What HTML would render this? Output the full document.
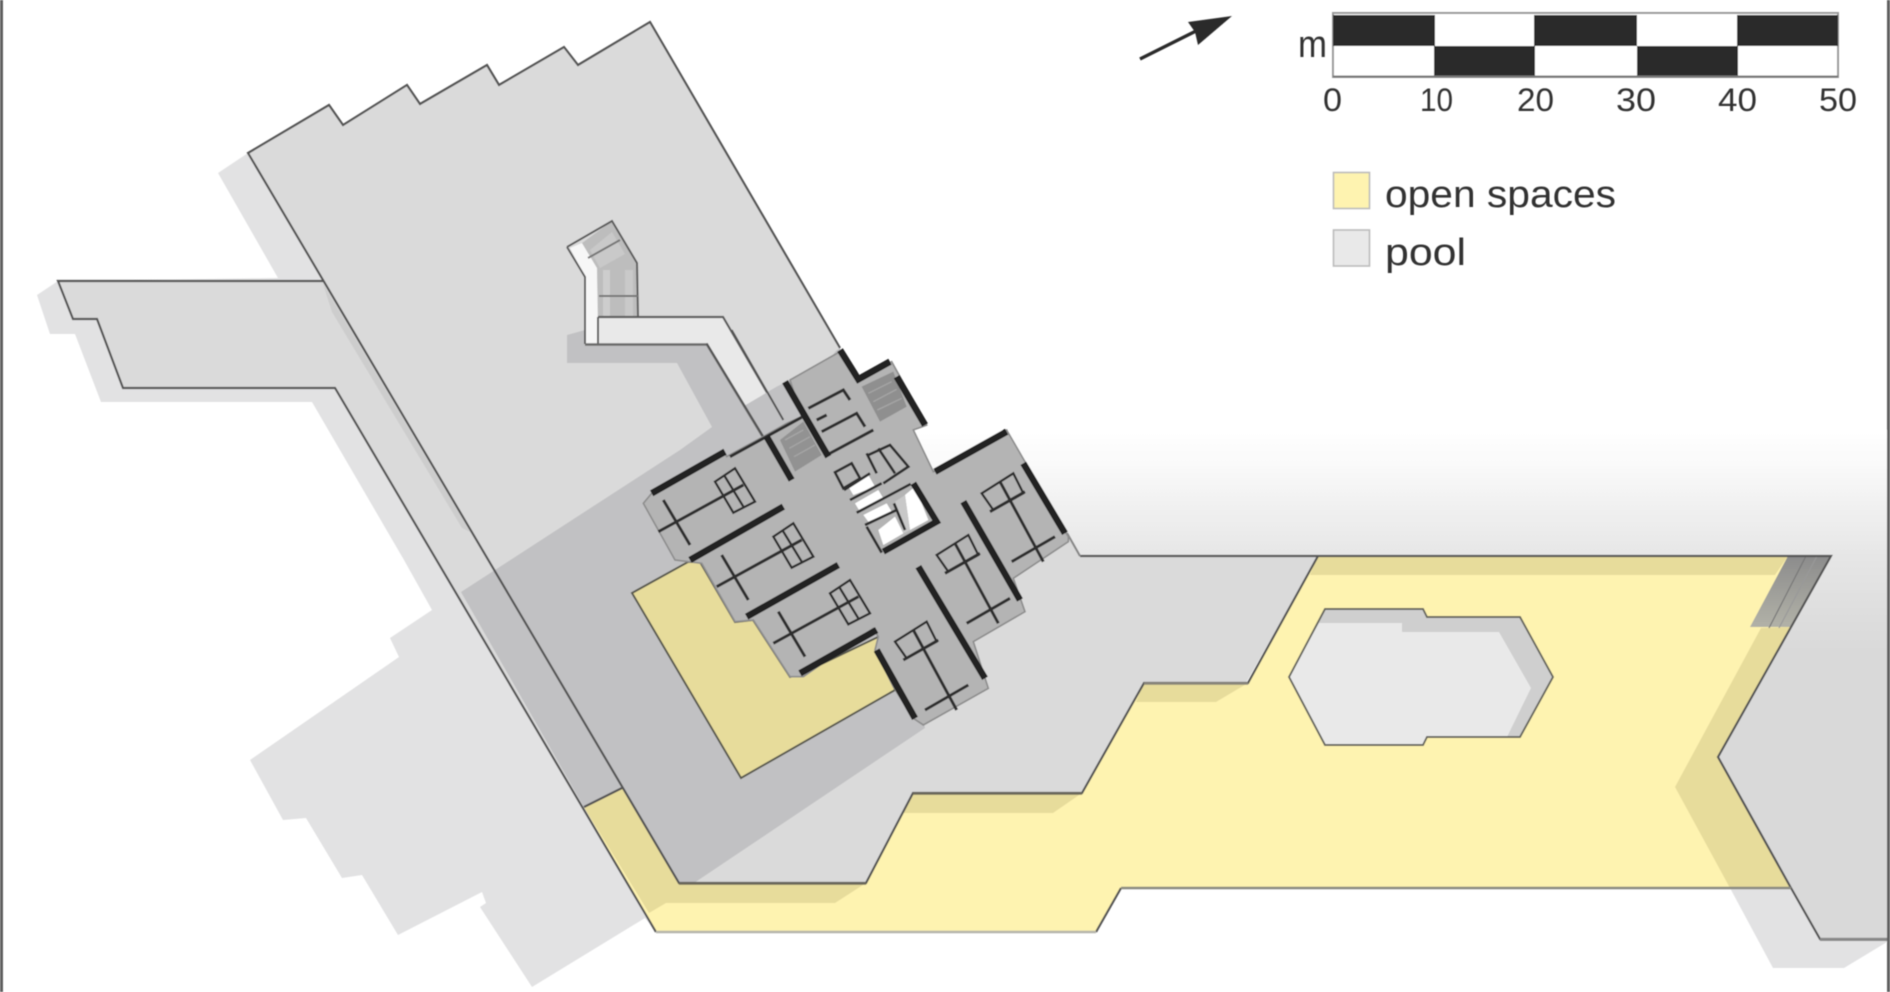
<!DOCTYPE html>
<html>
<head>
<meta charset="utf-8">
<style>
html,body{margin:0;padding:0;background:#fff;width:1890px;height:992px;overflow:hidden}
svg{display:block}
text{font-family:"Liberation Sans",sans-serif;fill:#333}
</style>
</head>
<body>
<svg width="1890" height="992" viewBox="0 0 1890 992" xmlns="http://www.w3.org/2000/svg">
<defs>
<linearGradient id="g" gradientUnits="userSpaceOnUse" x1="0" y1="430" x2="0" y2="650">
<stop offset="0" stop-color="#ffffff"/>
<stop offset="0.15" stop-color="#fafafa"/>
<stop offset="0.57" stop-color="#e6e6e6"/>
<stop offset="1" stop-color="#d9d9d9"/>
</linearGradient>
<linearGradient id="rp" gradientUnits="userSpaceOnUse" x1="0" y1="556" x2="0" y2="628">
<stop offset="0" stop-color="#8c8c8c"/>
<stop offset="1" stop-color="#b2b2a8"/>
</linearGradient>
<filter id="b" x="-2%" y="-2%" width="104%" height="104%"><feGaussianBlur stdDeviation="0.55"/></filter>
</defs>
<rect width="1890" height="992" fill="#fff"/>
<g filter="url(#b)">
<!-- gradient ground -->
<polygon fill="url(#g)" points="900,430 1887,430 1887,940 1820,940 1718,757 1831,556 1080,556 1067,533 930,470 913,430"/>
<!-- shadows on white -->
<polygon fill="#e2e2e3" points="218,173 248,153 700,900 656,932 645,918 532,987 480,907 486,903 482,892 398,935 362,875 342,878 306,818 283,820 250,760 399,657 390,638 432,610 404,560 312,402 101,402 75,334 50,334 37,295 58,281 278,278"/>
<polygon fill="#e2e2e3" points="1730,888 1773,968 1844,968 1887,942 1887,939 1820,939 1791,888"/>
<!-- main site -->
<polygon fill="#dadada" points="248,153 329,105 343,125 407,85 420,104 487,65 499,85 564,47 578,65 650,22 840,348 930,470 1067,533 1080,556 1318,556 1246,683 1144,683 1082,793 913,793 866,883 679,883 656,930 584,807 335,388 123,388 97,319 73,319 58,281 323,281"/>
<!-- thin shade along main line on strip -->
<polygon fill="#cdcdcd" points="323,284 470,532 462,528 332,312"/>
<!-- band and lane shadow -->
<polygon fill="#c1c1c3" points="461,592 680,450 712,427 677,363 567,363 567,335 585,330 720,330 793,380 840,348 925,728 694,883 679,883 584,807"/>
<polygon fill="#dadada" points="640,316 723,316 785,420 838,348 650,150"/>
<!-- lane -->
<polygon fill="#e9e9e9" points="598,317 723,317 783,418 763,437 707,345 598,344"/>
<polygon fill="#f7f7f7" points="570,248 582,243 597,268 598,344 585,344 585,277"/>
<polygon fill="#bdbdbd" points="582,243 612,221 637,263 638,316 598,317 597,268"/>
<rect x="603" y="270" width="7" height="46" fill="#cdcdcd"/>
<rect x="625" y="270" width="8" height="46" fill="#c9c9c9"/>
<polygon fill="#c9c9c9" points="590,250 612,232 625,254 600,268"/>
<g fill="none" stroke="#5c5c5c" stroke-width="2">
<polyline points="567,247 612,221 637,263 638,316"/>
<polyline points="567,247 585,277 585,344"/>
<line x1="598" y1="317" x2="598" y2="344"/>
<polyline points="598,317 723,317 783,420" stroke-width="2.2"/>
<polyline points="585,344.5 707,344.5 763,437" stroke="#6a6a6a" stroke-width="2.6"/>
<line x1="588" y1="258" x2="620" y2="240" stroke="#777"/>
<line x1="599" y1="296" x2="638" y2="296" stroke="#777"/>
</g>
<!-- yellow -->
<polygon fill="#fef3b0" points="584,807 622,788 679,883 866,883 913,793 1082,793 1144,683 1248,683 1318,556 1831,556 1718,757 1791,888 1121,888 1096,932 656,932"/>
<g fill="#e7dc9b">
<polygon points="584,807 622,788 679,883 866,883 835,903 666,903 649,913"/>
<polygon points="913,793 1082,793 1053,813 903,813"/>
<polygon points="1144,683 1248,683 1216,702 1136,702"/>
<polygon points="1318,556 1788,556 1775,575 1310,575"/>
<polygon points="1792,627 1761,628 1675,787 1730,888 1791,888 1718,757"/>
</g>
<!-- ramp right -->
<polygon fill="url(#rp)" points="1788,556 1831,556 1792,627 1750,627"/>
<g stroke="#777" fill="none" stroke-width="1.2">
<line x1="1806" y1="556" x2="1769" y2="628"/>
<line x1="1817" y1="556" x2="1779" y2="628" stroke="#999"/>
</g>
<!-- pool -->
<polygon fill="#cfcfcf" points="1325,609 1423,609 1427,617 1520,617 1553,677 1520,737 1427,737 1423,745 1325,745 1289,677"/>
<polygon fill="#e9e9e9" points="1319,623 1402,623 1402,632 1499,632 1531,688 1507,737 1427,737 1423,745 1325,745 1289,677"/>
<polygon fill="none" stroke="#66665e" stroke-width="1.9" points="1325,609 1423,609 1427,617 1520,617 1553,677 1520,737 1427,737 1423,745 1325,745 1289,677"/>
<!-- site edges -->
<g fill="none" stroke="#555" stroke-width="2.2">
<polyline points="840,348 650,22 578,65 564,47 499,85 487,65 420,104 407,85 343,125 329,105 248,153 679,883 866,883 913,793 1082,793 1144,683 1248,683 1318,556"/>
<polyline points="323,281 58,281 73,319 97,319 123,388 335,388 656,932"/>
<polyline points="584,807 622,788"/>
<polyline points="1080,556 1831,556 1718,757 1791,888 1820,939 1887,939"/>
<polyline points="1121,888 1096,932"/>
<polyline points="1067,533 1080,556" stroke="#888"/>
<polyline points="913,430 933,472" stroke="#999"/>
</g>
<line x1="1121" y1="888" x2="1791" y2="888" stroke="#8a8a80" stroke-width="2.6"/>
<line x1="656" y1="932" x2="1096" y2="932" stroke="#b5b5ab" stroke-width="2.4"/>
<line x1="679" y1="883.5" x2="866" y2="883.5" stroke="#6b675a" stroke-width="2.4"/>
<line x1="913" y1="793.5" x2="1082" y2="793.5" stroke="#6b675a" stroke-width="2.4"/>
<line x1="1144" y1="683.5" x2="1248" y2="683.5" stroke="#88857a" stroke-width="2.4"/>
<line x1="1820" y1="939.5" x2="1887" y2="939.5" stroke="#888" stroke-width="3"/>
<!-- courtyard -->
<polygon fill="#e7dc9b" stroke="#5a5a50" stroke-width="2" points="632,593 688,562 700,562 735,622 753,620 790,677 803,673 878,637 895,690 741,778"/>
<!-- building, zoom coordinates -->
<g transform="translate(620,330) scale(0.33333)">
<!-- band across lane end -->
<polygon fill="#c1c1c3" points="372,228 470,170 510,150 545,260 430,320"/>
<path d="M260,40 L430,320 M335,0 L490,270" fill="none" stroke="#555" stroke-width="6"/>
<polygon fill="#b4b4b4" stroke="#8e8e8e" stroke-width="5" points="510,150 660,65 710,145 815,95 920,285 880,300 940,425 1160,300 1345,620 1345,635 1180,745 1215,845 1060,935 1105,1075 910,1185 880,1165 820,1070 765,960 775,920 760,895 550,1040 510,1040 400,870 345,875 245,700 205,695 165,690 70,520 95,490 310,360 320,380 430,320 500,280 545,260"/>
<!-- stair hatches -->
<polygon fill="#8f8f8f" points="725,170 820,125 860,230 780,275"/>
<polygon fill="#929292" points="480,330 550,275 605,375 525,425"/>
<g fill="none" stroke="#a6a6a6" stroke-width="4">
<path d="M745,190 L815,155 M760,215 L830,178 M772,240 L845,205"/>
<path d="M495,330 L550,300 M508,355 L570,320 M522,380 L585,345"/>
</g>
<!-- thin lines -->
<g fill="none" stroke="#2f2f2f" stroke-width="9">
<path d="M330,380 L545,262"/>
<path d="M565,235 L670,180 L690,210"/>
<path d="M590,270 L620,255"/>
<path d="M605,305 L710,250 L735,290"/>
<path d="M630,370 L760,300"/>
<!-- west wings -->
<g>
<path d="M130,510 L210,645"/><path d="M115,605 L370,465"/>
<path d="M285,455 L345,415 L405,515 L340,548 Z" stroke-width="7"/><path d="M312,435 L370,530" stroke-width="7"/>
</g>
<g transform="translate(175,165)">
<path d="M130,510 L210,645"/><path d="M115,605 L370,465"/>
<path d="M285,455 L345,415 L405,515 L340,548 Z" stroke-width="7"/><path d="M312,435 L370,530" stroke-width="7"/>
</g>
<g transform="translate(345,335)">
<path d="M130,510 L210,645"/><path d="M115,605 L370,465"/>
<path d="M285,455 L345,415 L405,515 L340,548 Z" stroke-width="7"/><path d="M312,435 L370,530" stroke-width="7"/>
</g>
<!-- east wings -->
<g>
<path d="M825,935 L920,875 L950,935 L860,985 Z" stroke-width="7"/><path d="M880,900 L1010,1140"/><path d="M850,990 L955,930"/><path d="M915,1140 L1045,1065"/>
</g>
<g transform="translate(125,-260)">
<path d="M825,935 L920,875 L950,935 L860,985 Z" stroke-width="7"/><path d="M880,900 L1010,1140"/><path d="M850,990 L955,930"/><path d="M915,1140 L1045,1065"/>
</g>
<g transform="translate(260,-445)">
<path d="M825,935 L920,875 L950,935 L860,985 Z" stroke-width="7"/><path d="M880,900 L1010,1140"/><path d="M850,990 L955,930"/><path d="M915,1140 L1045,1065"/>
</g>
</g>
<!-- core -->
<polygon fill="#fff" points="685,470 745,435 765,470 700,495"/>
<polygon fill="#fff" points="705,520 775,480 790,505 720,545"/>
<polygon fill="#fff" points="730,555 800,520 815,545 745,575"/>
<polygon fill="#fff" points="775,600 825,560 850,610 790,645"/>
<polygon fill="#fff" points="855,495 885,470 925,570 870,600"/>
<polygon fill="#c8c8c8" points="825,515 855,495 870,600 850,610"/>
<g fill="none" stroke="#2f2f2f" stroke-width="8">
<path d="M645,427 L695,400 L720,445 L670,475 Z"/>
<path d="M672,480 L750,430"/>
<path d="M690,510 L785,460"/>
<path d="M710,548 L810,495 L872,462"/>
<path d="M735,585 L830,540"/>
<path d="M745,375 L810,345 L865,410 L790,460"/>
<path d="M775,355 L825,430"/>
<path d="M740,370 L770,430"/>
<path d="M740,590 L785,668"/>
<path d="M822,520 L855,600"/>
</g>
<path d="M880,460 L950,575 L790,665" fill="none" stroke="#222" stroke-width="19"/>
<!-- thick walls -->
<g fill="none" stroke="#222" stroke-width="20" stroke-linejoin="miter">
<path d="M660,60 L715,148 L810,95"/>
<path d="M830,140 L915,285"/>
<path d="M495,155 L625,380"/>
<path d="M440,320 L515,450"/>
<path d="M95,490 L315,365"/>
<path d="M210,690 L490,530"/>
<path d="M380,860 L655,705"/>
<path d="M540,1030 L770,900"/>
<path d="M770,960 L885,1165"/>
<path d="M895,710 L1095,1045"/>
<path d="M1030,515 L1200,810"/>
<path d="M1210,400 L1335,610"/>
<path d="M945,425 L1160,305"/>
</g>
</g>
<!-- north arrow -->
<line x1="1140" y1="59" x2="1200" y2="29" stroke="#2b2b2b" stroke-width="3.4"/>
<polygon fill="#2b2b2b" points="1232,16 1188,22 1195,32 1198,45"/>
<!-- scale bar -->
<rect x="1333" y="13" width="505" height="64" fill="#fff" stroke="#999" stroke-width="2"/>
<rect x="1333" y="15" width="102" height="31" fill="#2b2b2b"/>
<rect x="1534" y="15" width="103" height="31" fill="#2b2b2b"/>
<rect x="1737" y="15" width="101" height="31" fill="#2b2b2b"/>
<rect x="1434" y="46" width="101" height="31" fill="#2b2b2b"/>
<rect x="1637" y="46" width="101" height="31" fill="#2b2b2b"/>
<line x1="1333" y1="76.5" x2="1838" y2="76.5" stroke="#777" stroke-width="2"/>
<!-- legend swatches -->
<rect x="1333.5" y="172.5" width="36" height="36" fill="#fef3b0" stroke="#bbb" stroke-width="1.6"/>
<rect x="1333.5" y="230" width="36" height="36" fill="#e9e9e9" stroke="#bbb" stroke-width="1.6"/>
<!-- frame -->
<rect x="0" y="0" width="3" height="992" fill="#5f5f5f"/>
<rect x="1887" y="0" width="3" height="992" fill="#5f5f5f"/>
<!-- text -->
<text x="1298" y="57" font-size="38" textLength="29" lengthAdjust="spacingAndGlyphs">m</text>
<text x="1323" y="111" font-size="32" textLength="19" lengthAdjust="spacingAndGlyphs">0</text>
<text x="1420" y="111" font-size="32" textLength="33" lengthAdjust="spacingAndGlyphs">10</text>
<text x="1517" y="111" font-size="32" textLength="37" lengthAdjust="spacingAndGlyphs">20</text>
<text x="1616" y="111" font-size="32" textLength="40" lengthAdjust="spacingAndGlyphs">30</text>
<text x="1718" y="111" font-size="32" textLength="39" lengthAdjust="spacingAndGlyphs">40</text>
<text x="1819" y="111" font-size="32" textLength="38" lengthAdjust="spacingAndGlyphs">50</text>
<text x="1385" y="207" font-size="38" textLength="231" lengthAdjust="spacingAndGlyphs">open spaces</text>
<text x="1385" y="265" font-size="38" textLength="81" lengthAdjust="spacingAndGlyphs">pool</text>
</g>
</svg>
</body>
</html>
